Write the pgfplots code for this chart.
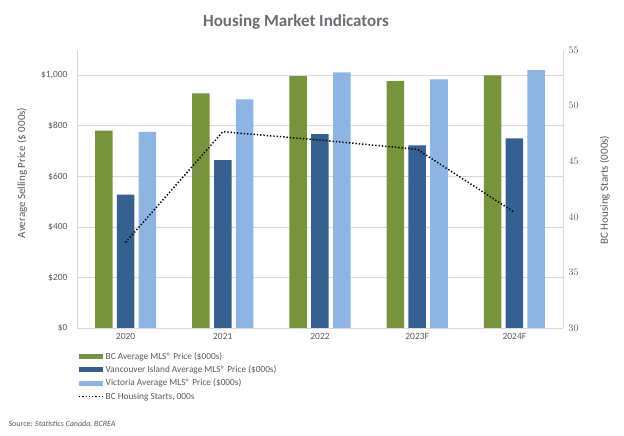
\documentclass[border=0pt]{standalone}
\usepackage{pgfplots}
\pgfplotsset{compat=1.18}
\usepackage{fontspec}
\setmainfont{Carlito}
\definecolor{cgreen}{HTML}{77933C}
\definecolor{cdark}{HTML}{376092}
\definecolor{clight}{HTML}{8EB4E3}
\definecolor{ctext}{HTML}{595959}
\definecolor{ctitle}{HTML}{6A6E73}
\definecolor{cgrid}{HTML}{D9D9D9}
\begin{document}
\begin{tikzpicture}
\useasboundingbox (0,0) rectangle (624bp,436bp);
\begin{axis}[
  at={(77bp,108bp)}, anchor=south west,
  scale only axis, width=486bp, height=278bp,
  xmin=-0.5, xmax=4.5, ymin=0, ymax=1100,
  axis x line*=bottom, axis y line*=left,
  axis line style={draw=cgrid, line width=0.8bp, -},
  every outer x axis line/.append style={-},
  every outer y axis line/.append style={-},
  major tick length=0,
  xtick={0,1,2,3,4},
  xticklabels={2020,2021,2022,2023F,2024F},
  ytick={0,200,400,600,800,1000},
  yticklabels={\$0,\$200,\$400,\$600,\$800,{\$1,000}},
  ymajorgrids, grid style={cgrid, line width=0.8bp},
  tick label style={font=\fontsize{9.5bp}{11bp}\selectfont, text=ctext},
  xticklabel style={yshift=-2bp},
  yticklabel style={xshift=-6bp},
  ylabel={Average Selling Price (\$ 000s)},
  ylabel style={font=\fontsize{11bp}{13bp}\selectfont, text=ctext, at={(axis description cs:-0.113,0.558)}, anchor=center},
  title={Housing Market Indicators},
  title style={font=\fontsize{17bp}{20bp}\selectfont\bfseries, text=ctitle, at={(axis description cs:0.4506,1.079)}, anchor=center},
  ybar=4.3bp, bar width=17.5bp,
  legend cell align=left,
  legend style={draw=none, fill=none, at={(axis description cs:-0.004,-0.072)}, anchor=north west,
    font=\fontsize{9.3bp}{10bp}\selectfont, text=ctext, row sep=1.2bp,
    /tikz/every even column/.append style={column sep=0pt}},
  legend image code/.code={\fill[#1, draw=none] (0bp,-2.5bp) rectangle (24bp,2.5bp);},
]
\addplot[fill=cgreen, draw=none] coordinates {(0,781) (1,928) (2,997) (3,977) (4,1000)};
\addlegendentry{BC Average MLS® Price (\$000s)}
\addplot[fill=cdark, draw=none] coordinates {(0,528) (1,664) (2,767) (3,723) (4,750)};
\addlegendentry{Vancouver Island Average MLS® Price (\$000s)}
\addplot[fill=clight, draw=none] coordinates {(0,776) (1,905) (2,1011) (3,984) (4,1020)};
\addlegendentry{Victoria Average MLS® Price (\$000s)}
\addlegendimage{legend image code/.code={\draw[black, line width=1.5bp, dash pattern=on 1.3bp off 2bp] (0bp,0bp) -- (24bp,0bp);}}
\addlegendentry{BC Housing Starts, 000s}
\end{axis}
\begin{axis}[
  at={(77bp,108bp)}, anchor=south west,
  scale only axis, width=486bp, height=278bp,
  xmin=-0.5, xmax=4.5, ymin=30, ymax=55,
  axis x line=none, axis y line*=right,
  axis line style={draw=cgrid, line width=0.8bp, -},
  every outer y axis line/.append style={-},
  major tick length=0,
  ytick={30,35,40,45,50,55},
  tick label style={font=\fontsize{9.5bp}{11bp}\selectfont, text=ctext},
  yticklabel style={xshift=2bp},
  ylabel={BC Housing Starts (000s)},
  ylabel style={font=\fontsize{11bp}{13bp}\selectfont, text=ctext, at={(axis description cs:1.086,0.496)}, anchor=center},
]
\addplot[black, line width=1.5bp, dash pattern=on 1.3bp off 2bp, mark=none] coordinates {(0,37.7) (1,47.65) (2,46.9) (3,46.07) (4,40.4)};
\end{axis}
\node[anchor=west, font=\fontsize{8bp}{9bp}\selectfont, text=ctext] at (5bp,12bp) {Source: \textit{Statistics Canada, BCREA}};
\end{tikzpicture}
\end{document}
